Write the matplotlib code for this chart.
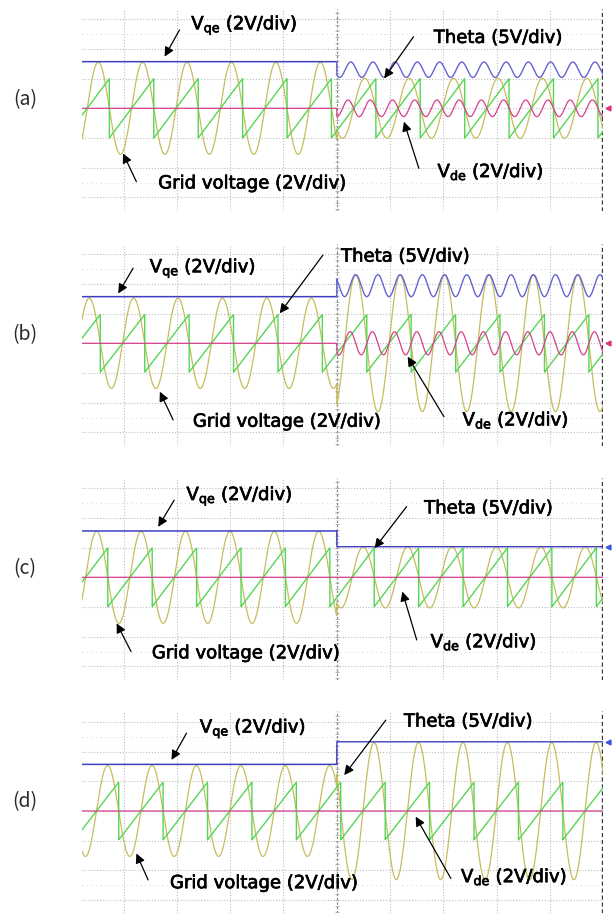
import numpy as np
import matplotlib
matplotlib.use('Agg')
import matplotlib.pyplot as plt
import matplotlib.patheffects as pe

plt.rcParams['font.family'] = ['DejaVu Sans']
plt.rcParams['mathtext.fontset'] = 'dejavusans'

# scope readings, in divisions; time in divisions with the event at 0
panel_names = ['(a)', '(b)', '(c)', '(d)']
vqe_before = [1.57, 1.57, 1.56, 1.57]
vqe_after = [1.30, 1.94, 1.03, 2.33]
vqe_ripple = [0.26, 0.37, 0.0, 0.0]
vqe_ripple_phase = [0.82, np.pi, 0.0, 0.0]
vde_ripple = [0.28, 0.39, 0.0, 0.0]
vde_ripple_phase = [np.pi / 2, -np.pi / 2, 0.0, 0.0]
grid_before = [1.55, 1.52, 1.55, 1.53]
grid_after = [1.01, 2.30, 1.03, 2.31]
theta_span = [1.0, 0.97, 0.99, 0.97]
theta_reset = [-0.10, -0.27, -0.13, 0.075]
grid_period = 0.8333  # 20 ms/div at 60 Hz

label_vqe = r'V$_\mathregular{qe}$ (2V/div)'
label_theta = 'Theta (5V/div)'
label_vde = r'V$_\mathregular{de}$ (2V/div)'
label_grid = 'Grid voltage (2V/div)'

# annotation layout per panel: (text x, text y, arrow tail, arrow head) in divisions
ann_layout = [
    {'vqe': ((-2.73, 2.80), (-2.95, 2.64), (-3.23, 1.74)),
     'theta': ((1.82, 2.37), (1.44, 2.41), (0.89, 1.01)),
     'vde': ((1.89, -2.13), (1.54, -2.02), (1.26, -0.45)),
     'grid': ((-3.35, -2.53), (-3.76, -2.47), (-4.01, -1.52))},
    {'vqe': ((-3.51, 2.53), (-3.82, 2.53), (-4.10, 1.68)),
     'theta': ((0.08, 2.92), (-0.26, 2.97), (-1.07, 1.01)),
     'vde': ((2.36, -2.58), (2.01, -2.47), (1.33, -0.45)),
     'grid': ((-2.70, -2.64), (-3.07, -2.58), (-3.32, -1.63))},
    {'vqe': ((-2.82, 2.74), (-3.05, 2.60), (-3.35, 1.70)),
     'theta': ((1.64, 2.32), (1.31, 2.38), (0.71, 0.98)),
     'vde': ((1.76, -2.17), (1.50, -2.11), (1.23, -0.48)),
     'grid': ((-3.47, -2.56), (-3.86, -2.50), (-4.13, -1.55))},
    {'vqe': ((-2.57, 2.78), (-2.82, 2.62), (-3.10, 1.72)),
     'theta': ((1.26, 3.01), (0.92, 3.06), (0.14, 1.21)),
     'vde': ((2.33, -2.21), (2.14, -2.27), (1.48, -0.19)),
     'grid': ((-3.13, -2.43), (-3.54, -2.32), (-3.76, -1.43))},
]
texts = {'vqe': label_vqe, 'theta': label_theta, 'vde': label_vde, 'grid': label_grid}

W, H = 616, 913
center_px = [108.3, 343.3, 577.3, 811.0]
div_x, div_y = 53.3, 29.7
x_lo, x_hi = -4.78, 5.0
y_lo, y_hi = -3.45, 3.36

c_blue = '#3f3fc4'
c_blue_light = '#6464d2'
c_pink = '#d4408c'
c_green = '#55d655'
c_yellow = '#c6bd5e'
c_grid = '#bdbdbd'

fig = plt.figure(figsize=(W / 100, H / 100), dpi=100)

t = np.linspace(x_lo, x_hi, 8000)
after = t >= 0

for i, name in enumerate(panel_names):
    cy = center_px[i]
    left = 82 / W
    width = (x_hi - x_lo) * div_x / W
    top_px = cy - y_hi * div_y
    height = (y_hi - y_lo) * div_y / H
    ax = fig.add_axes([left, 1 - top_px / H - height, width, height])
    ax.set_xlim(x_lo, x_hi)
    ax.set_ylim(y_lo, y_hi)
    ax.axis('off')

    # graticule
    for gx in range(-4, 5):
        if gx == 0:
            continue
        ax.axvline(gx, color=c_grid, lw=0.8, ls=(0, (1, 1.6)), zorder=0)
    for gy in range(-3, 4):
        ax.axhline(gy, color=c_grid, lw=0.8, ls=(0, (1, 1.6)), zorder=0)
    for gy in (-2.5, 2.5):
        ax.axhline(gy, color='#dcdcdc', lw=0.8, ls=(0, (1, 3)), zorder=0)
    ax.axvline(0, color='#8a8a8a', lw=0.9, ls=(0, (2, 1.5)), zorder=0)
    ticks = np.arange(-3.4, 3.41, 0.2)
    ax.plot(np.zeros_like(ticks), ticks, ls='none', marker='_', ms=3.5,
            mew=0.6, color='#a8a8a8', zorder=0)
    ax.axvline(x_hi - 0.02, color='#3a3a3a', lw=1.0, ls=(0, (3, 2)), zorder=0)

    # waveforms
    phase = np.mod((t - theta_reset[i]) / grid_period, 1.0)
    theta = -np.pi + 2 * np.pi * phase
    grid_v = np.where(after, grid_after[i], grid_before[i]) * np.sin(theta)
    theta_v = theta_span[i] * theta / np.pi
    vqe = np.where(after,
                   vqe_after[i] + vqe_ripple[i] * np.cos(2 * theta + vqe_ripple_phase[i]),
                   vqe_before[i])
    vde = np.where(after, vde_ripple[i] * np.cos(2 * theta + vde_ripple_phase[i]), 0.0)

    ax.plot(t, grid_v, color=c_yellow, lw=0.9, zorder=2)
    ax.plot(t, theta_v, color=c_green, lw=1.0, zorder=3)
    ax.plot(t, vde, color=c_pink, lw=0.9, zorder=4)
    ax.plot(t[~after], vqe[~after], color=c_blue, lw=1.1, zorder=5)
    ax.plot(np.r_[t[~after][-1], t[after]], np.r_[vqe[~after][-1], vqe[after]],
            color=c_blue_light if vqe_ripple[i] > 0 else c_blue, lw=1.0, zorder=5)

    # trigger / reference markers at the right edge
    if vde_ripple[i] > 0:
        ax.plot([x_hi + 0.08], [0], marker='<', ms=3.5, color='#e0307a', clip_on=False)
    else:
        ax.plot([x_hi + 0.08], [vqe_after[i]], marker='<', ms=3.5, color='#3a55e0',
                clip_on=False)

    for key, (txt_xy, tail, head) in ann_layout[i].items():
        ax.text(txt_xy[0], txt_xy[1], texts[key], fontsize=13, ha='left',
                va='center', color='black', zorder=10,
                path_effects=[pe.withStroke(linewidth=0.5, foreground='black')])
        ax.annotate('', xy=head, xytext=tail,
                    arrowprops=dict(arrowstyle='-|>', color='black', lw=0.9,
                                    mutation_scale=14, shrinkA=0, shrinkB=0),
                    zorder=10)

    fig.text(25 / W, 1 - (cy - 9) / H, name, ha='center', va='center',
             fontsize=14, color='#2a2a2a',
             family=['Noto Sans CJK KR', 'DejaVu Sans'], fontweight='light')

fig.savefig('out.png', dpi=100)
